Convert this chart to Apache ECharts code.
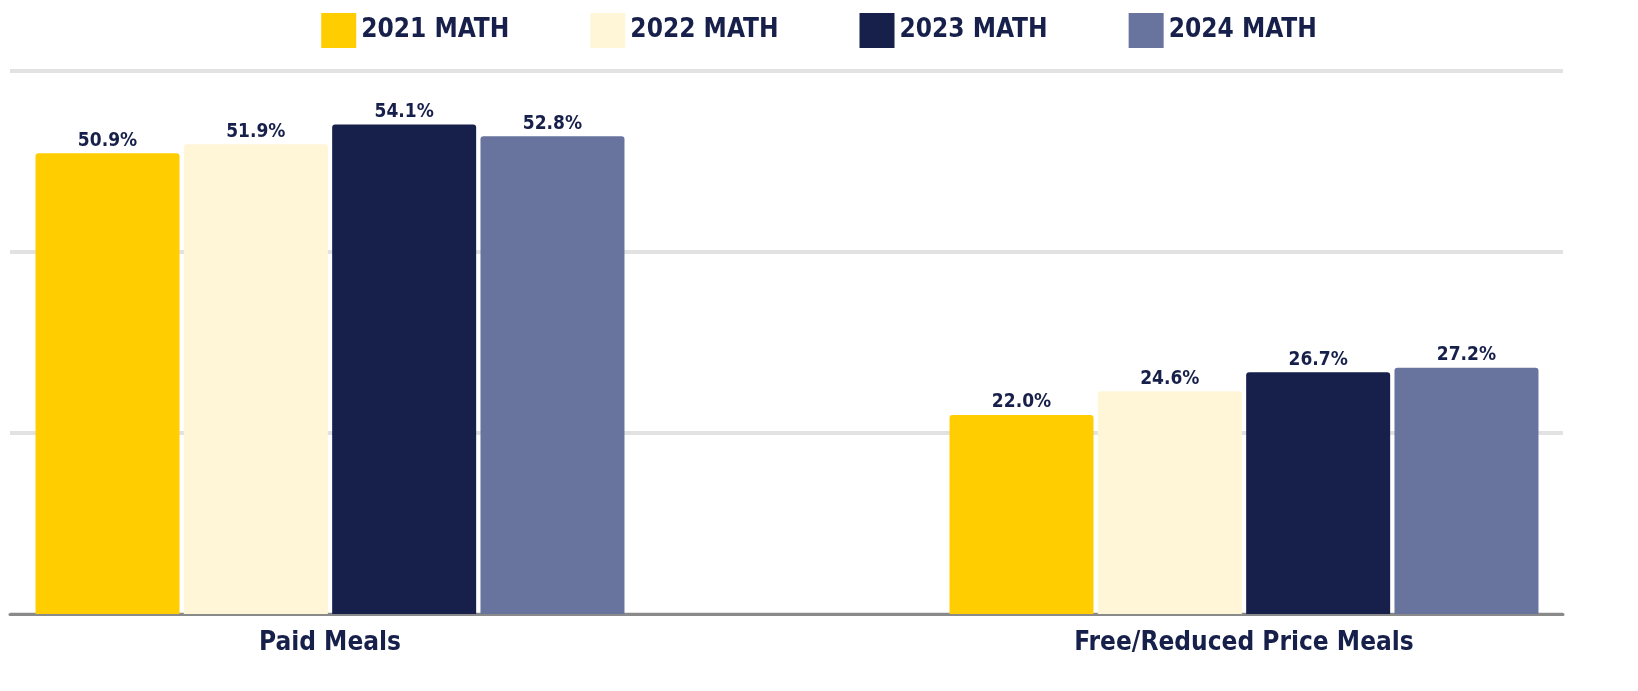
<!DOCTYPE html>
<html>
<head>
<meta charset="utf-8">
<script src="https://cdn.jsdelivr.net/npm/echarts@6/dist/echarts.min.js"></script>
<style>
html,body{margin:0;padding:0;background:#fff;}
#chart{width:1638px;height:691px;}
</style>
</head>
<body>
<div id="chart"></div>
<script>
var categories = ['Paid Meals', 'Free/Reduced Price Meals'];
var seriesNames = ['2021 MATH', '2022 MATH', '2023 MATH', '2024 MATH'];
var math2021 = [50.9, 22.0];
var math2022 = [51.9, 24.6];
var math2023 = [54.1, 26.7];
var math2024 = [52.8, 27.2];
var colors = ['#FFCD00', '#FFF5D7', '#171F4B', '#68739E'];

var FONT = "'DejaVu Sans Condensed', 'Liberation Sans Narrow', sans-serif";
var NAVY = '#17204A';
var allValues = [math2021, math2022, math2023, math2024];

// bar axis uses a spacer category between the two groups
var barCategories = [categories[0], '', categories[1]];
function spread(vals) { return [vals[0], '-', vals[1]]; }

var chart = echarts.init(document.getElementById('chart'), null, {renderer: 'canvas'});
var series = allValues.map(function (vals, i) {
  return {
    name: seriesNames[i],
    type: 'bar',
    xAxisIndex: 1,
    yAxisIndex: 1,
    clip: false,
    data: spread(vals),
    barWidth: 144,
    barGap: '3%',
    itemStyle: {color: colors[i], borderRadius: [3, 3, 0, 0]},
    label: {
      show: true,
      position: 'top',
      distance: 3,
      formatter: function (p) { return Number(p.value).toFixed(1) + '%'; },
      fontFamily: FONT,
      fontWeight: 'bold',
      fontSize: 19,
      color: NAVY
    }
  };
});

chart.setOption({
  animation: false,
  color: colors,
  legend: {
    data: seriesNames,
    top: 8,
    left: 'center',
    itemWidth: 35,
    itemHeight: 35,
    itemGap: 81,
    icon: 'rect',
    textStyle: {fontFamily: FONT, fontWeight: 'bold', fontSize: 26, color: NAVY}
  },
  grid: [
    {left: 10, right: 75, top: 71, bottom: 77, outerBoundsMode: 'none'},
    {left: 101.5, right: 165.5, top: 71, bottom: 77, outerBoundsMode: 'none'}
  ],
  xAxis: [
    {
      type: 'category', gridIndex: 0, data: categories,
      axisLine: {show: true, lineStyle: {color: '#8a8a8a', width: 3}},
      axisTick: {show: false}, axisLabel: {show: false}
    },
    {
      type: 'category', gridIndex: 1, data: barCategories,
      axisLine: {show: false}, axisTick: {show: false},
      axisLabel: {show: true, interval: 0, margin: 16, fontFamily: FONT, fontWeight: 'bold', fontSize: 26, color: NAVY}
    }
  ],
  yAxis: [
    {
      type: 'value', gridIndex: 0, min: 0, max: 60, interval: 20,
      axisLabel: {show: false}, axisLine: {show: false}, axisTick: {show: false},
      splitLine: {show: true, lineStyle: {color: '#e2e2e2', width: 4}}
    },
    {
      type: 'value', gridIndex: 1, min: 0, max: 60, interval: 20,
      axisLabel: {show: false}, axisLine: {show: false}, axisTick: {show: false},
      splitLine: {show: false}
    }
  ],
  series: series
});
</script>
</body>
</html>
